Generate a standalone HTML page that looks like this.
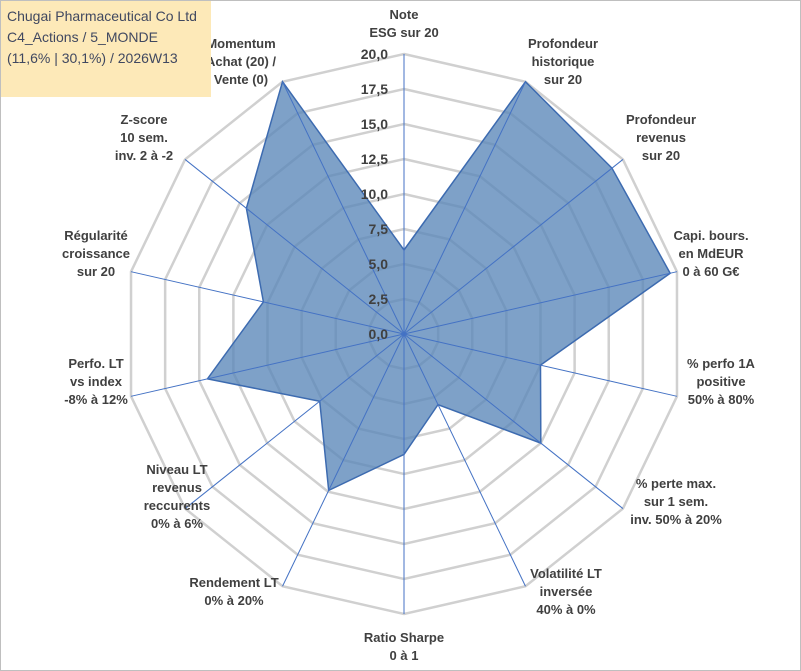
<!DOCTYPE html>
<html><head><meta charset="utf-8"><style>
body{margin:0;background:#fff;}
#wrap{position:relative;width:799px;height:669px;border:1px solid #bfbfbf;overflow:hidden;font-family:"Liberation Sans",sans-serif;}
svg text{font-family:"Liberation Sans",sans-serif;font-weight:bold;fill:#404040;}
#title{position:absolute;left:0;top:0;width:210px;height:96px;background:#fde9b8;padding:5px 6px;box-sizing:border-box;font-size:14px;line-height:21px;color:#404860;}
</style></head><body>
<div id="wrap">
<svg id="chart" width="799" height="669"></svg>
<div id="title">Chugai Pharmaceutical Co Ltd<br>C4_Actions / 5_MONDE<br>(11,6% | 30,1%) / 2026W13</div>
</div>
<script>
const categories=[["Note","ESG sur 20"],["Profondeur","historique","sur 20"],["Profondeur","revenus","sur 20"],["Capi. bours.","en MdEUR","0 à 60 G€"],["% perfo 1A","positive","50% à 80%"],["% perte max.","sur 1 sem.","inv. 50% à 20%"],["Volatilité LT","inversée","40% à 0%"],["Ratio Sharpe","0 à 1"],["Rendement LT","0% à 20%"],["Niveau LT","revenus","reccurents","0% à 6%"],["Perfo. LT","vs index","-8% à 12%"],["Régularité","croissance","sur 20"],["Z-score","10 sem.","inv. 2 à -2"],["Momentum","Achat (20) /","Vente (0)"]];
const values=[6,20,19,19.5,10,12.5,5.6,8.6,12.4,7.7,14.4,10.3,14.4,20];
const tickLabels=["0,0","2,5","5,0","7,5","10,0","12,5","15,0","17,5","20,0"];
const tickValues=[0,2.5,5,7.5,10,12.5,15,17.5,20];
const labelPos=[[403,22],[562,60],[660,136],[710,252],[720,380],[675,500],[565,590],[403,645],[233,590],[176,495],[95,380],[95,252],[143,136],[240,60]];
const svg=document.getElementById('chart');
const NS='http://www.w3.org/2000/svg';
const cx=403,cy=333,R=280,maxV=20,n=categories.length;
function pt(i,v){const a=i*2*Math.PI/n;const r=v/maxV*R;return [cx+r*Math.sin(a),cy-r*Math.cos(a)];}
function mk(t,attrs){const e=document.createElementNS(NS,t);for(const k in attrs)e.setAttribute(k,attrs[k]);svg.appendChild(e);return e;}
tickValues.forEach((tv,j)=>{if(tv===0)return;const p=[];for(let i=0;i<n;i++)p.push(pt(i,tv).join(','));
const g=mk('polygon',{points:p.join(' '),fill:'none',stroke:'#d0d0d0','stroke-width':2.5});

});
const poly=[];values.forEach((v,i)=>poly.push(pt(i,v).join(',')));
const area=mk('polygon',{points:poly.join(' '),fill:'#5a86b8','fill-opacity':0.78,stroke:'#3d6bb0','stroke-width':1.5});


for(let i=0;i<n;i++){const e=pt(i,maxV);const l=mk('line',{x1:cx,y1:cy,x2:e[0],y2:e[1],stroke:'#4472c4','stroke-width':1});

}
tickValues.forEach((tv,j)=>{const p=pt(0,tv);const t=mk('text',{x:p[0]-16,y:p[1]+5,'text-anchor':'end','font-size':14});t.textContent=tickLabels[j];

});
categories.forEach((lines,i)=>{const [x,y]=labelPos[i];const t=mk('text',{x:x,y:y-(lines.length-1)*9+5,'text-anchor':'middle','font-size':13});


lines.forEach((s,k)=>{const ts=document.createElementNS(NS,'tspan');ts.setAttribute('x',x);if(k>0)ts.setAttribute('dy',18);ts.textContent=s;t.appendChild(ts);});});
</script>
</body></html>
